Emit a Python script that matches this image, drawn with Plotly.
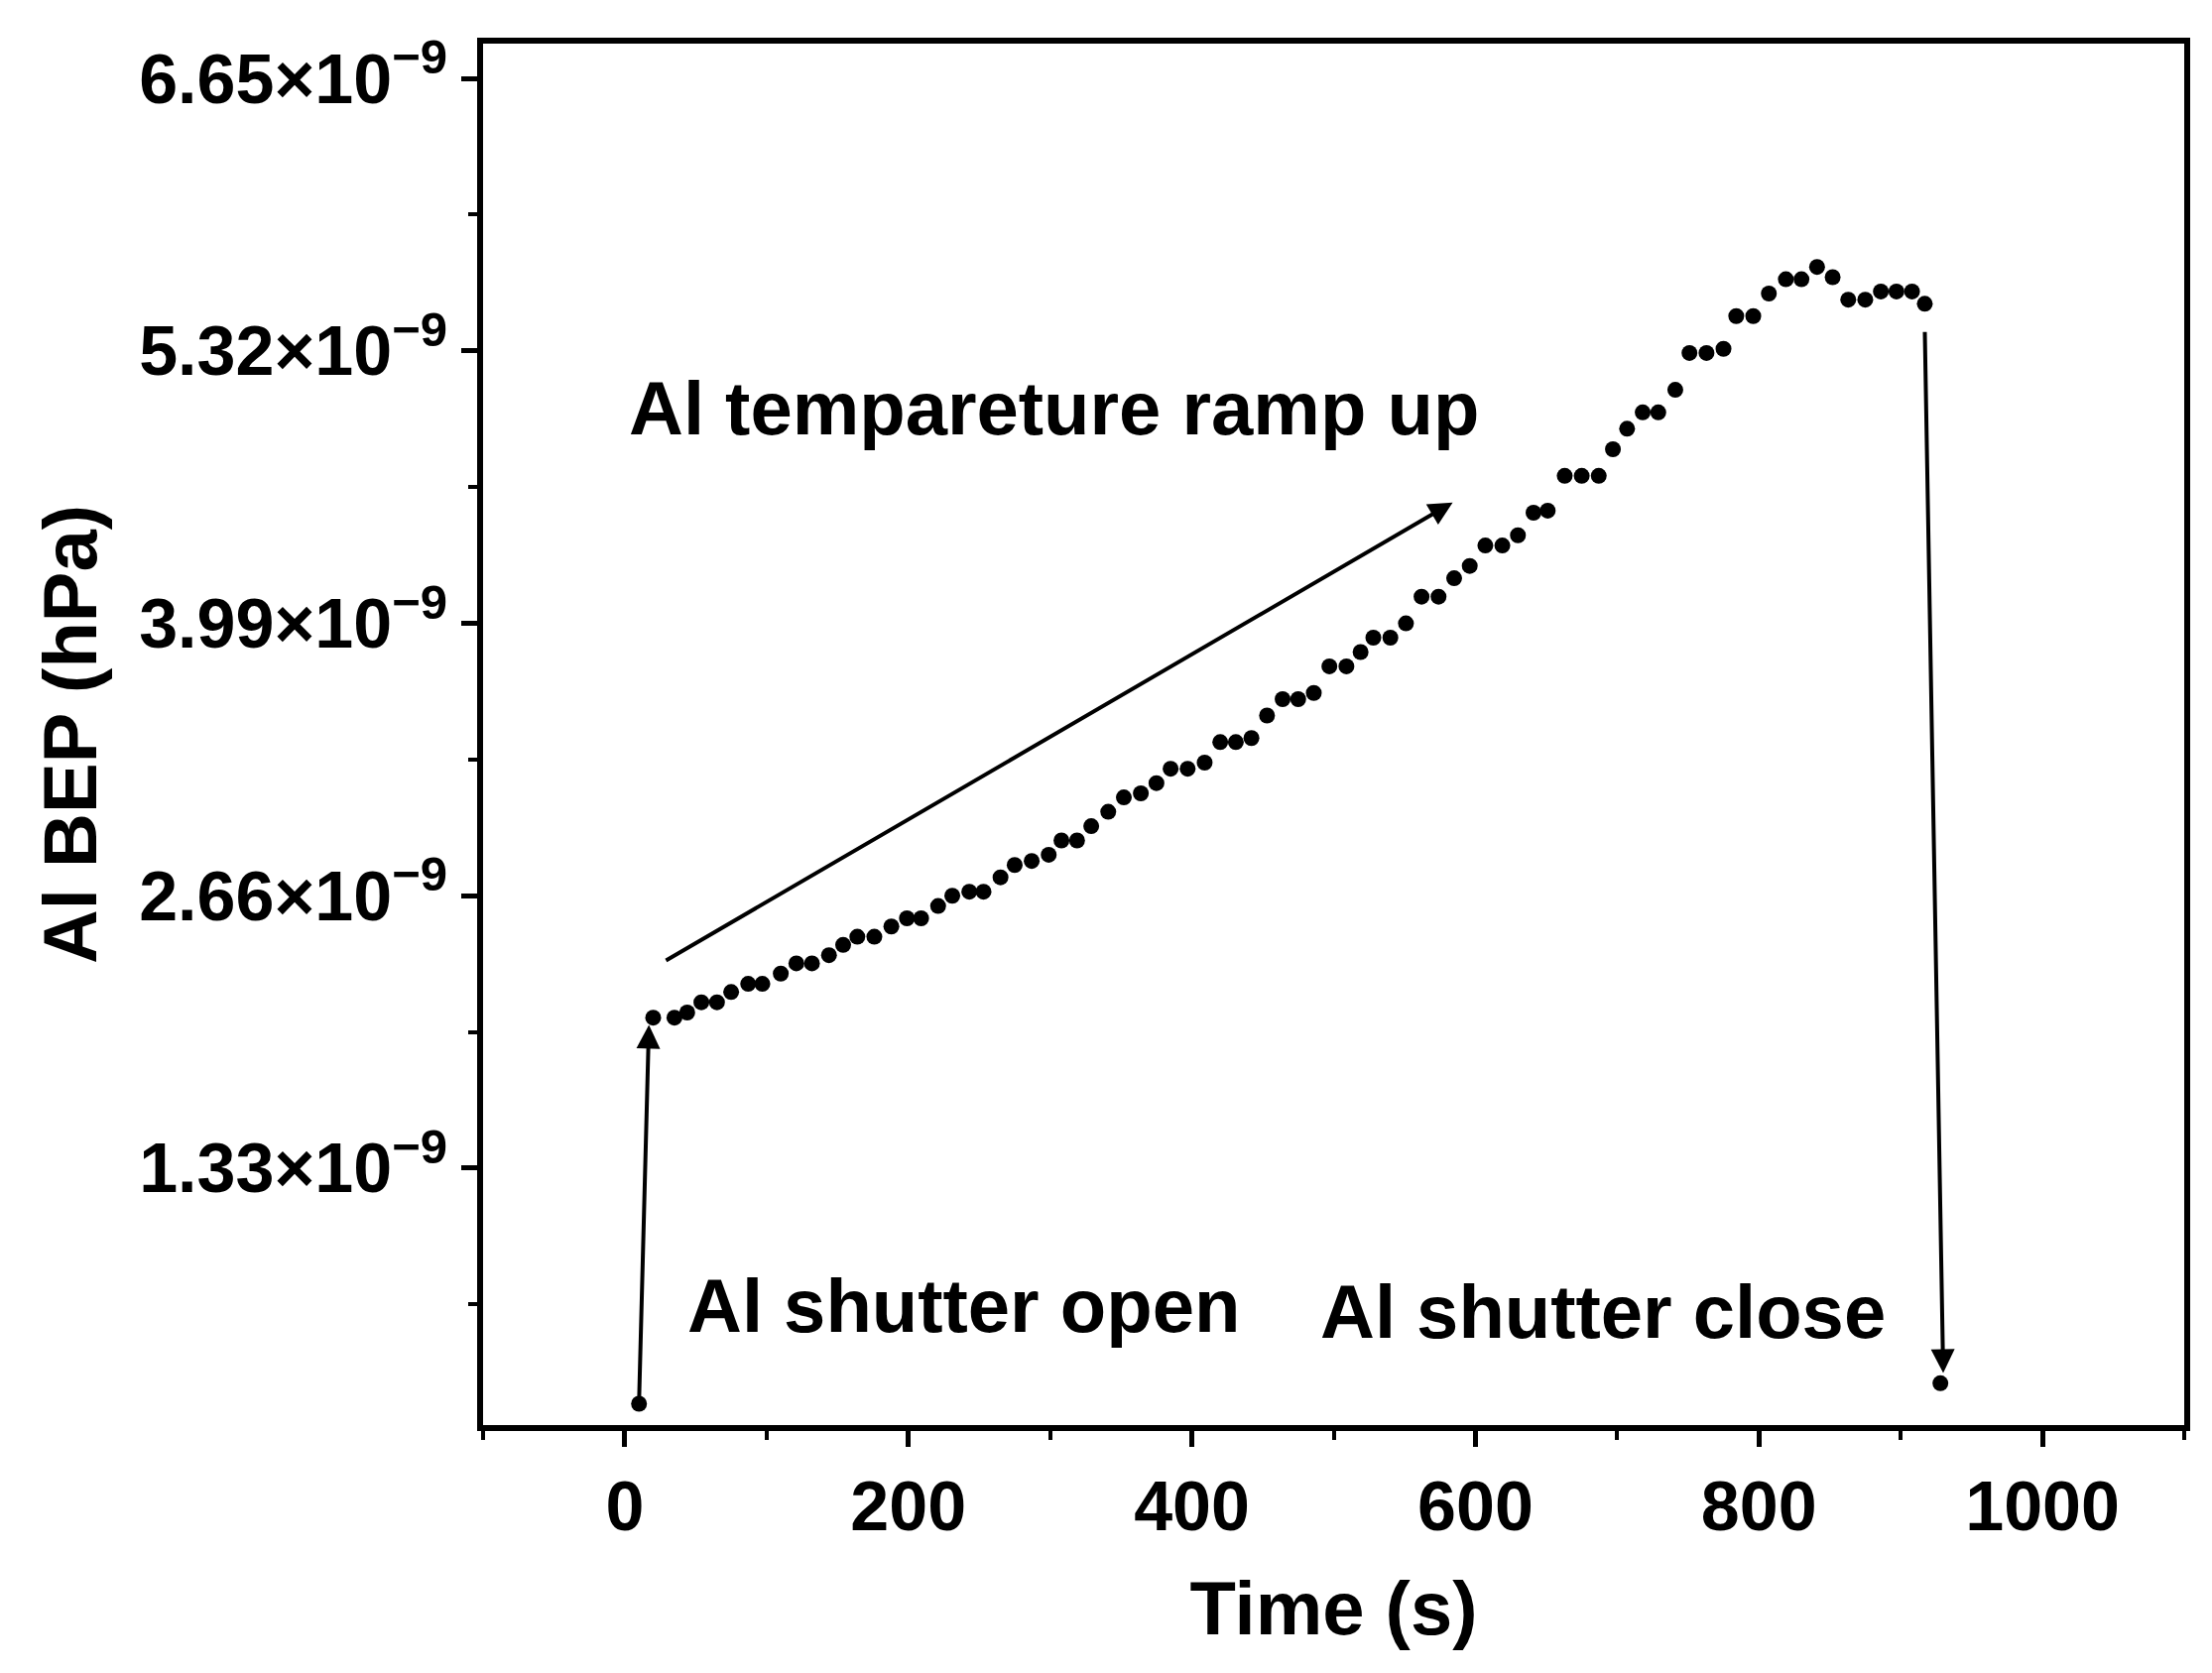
import plotly.graph_objects as go

time_s = [10,20,35,44,54,65,75,87,97,110,121,132,144,154,164,176,188,199,209,221,231,243,253,265,275,287,299,308,319,329,341,352,364,375,385,397,409,420,431,442,453,464,475,486,497,509,519,528,540,551,562,574,585,596,607,619,630,641,651,663,675,687,697,707,718,729,741,751,763,775,784,796,807,819,830,841,852,863,875,886,897,908,917,928]
bep = [0.18,2.065,2.065,2.09,2.14,2.14,2.19,2.23,2.23,2.28,2.33,2.33,2.37,2.42,2.46,2.46,2.51,2.55,2.55,2.61,2.66,2.68,2.68,2.75,2.81,2.83,2.86,2.93,2.93,3.00,3.07,3.14,3.16,3.21,3.28,3.28,3.31,3.41,3.41,3.43,3.54,3.62,3.62,3.65,3.78,3.78,3.85,3.92,3.92,3.99,4.12,4.12,4.21,4.27,4.37,4.37,4.42,4.53,4.54,4.71,4.71,4.71,4.84,4.94,5.02,5.02,5.13,5.31,5.31,5.33,5.49,5.49,5.60,5.67,5.67,5.73,5.68,5.57,5.57,5.61,5.61,5.61,5.55,0.28]
y_tickvals = [1.33,2.66,3.99,5.32,6.65]
y_ticktext = ["1.33×10<sup>−9</sup>","2.66×10<sup>−9</sup>","3.99×10<sup>−9</sup>","5.32×10<sup>−9</sup>","6.65×10<sup>−9</sup>"]

F = "Liberation Sans, Arial, sans-serif"
fig = go.Figure(go.Scatter(x=time_s, y=bep, mode="markers",
                           marker=dict(color="black", size=16)))

arrows = [((10,0.18),(17,2.03)), ((28,2.34),(584,4.58)), ((917,5.42),(930,0.33))]
for (x0,y0),(x1,y1) in arrows:
    fig.add_annotation(x=x1,y=y1,ax=x0,ay=y0,xref="x",yref="y",axref="x",ayref="y",
                       showarrow=True,arrowhead=2,arrowsize=1.2,arrowwidth=4,arrowcolor="black",text="")
for t,x,y in [("Al tempareture ramp up",303,5.04),("Al shutter open",239,0.66),("Al shutter close",690,0.63)]:
    fig.add_annotation(x=x,y=y,xref="x",yref="y",text="<b>"+t+"</b>",showarrow=False,
                       font=dict(family=F,size=76,color="black"))

axis_common = dict(showline=True, linecolor="black", linewidth=6, mirror=True, ticks="outside",
                   ticklen=16, tickwidth=5, tickcolor="black", showgrid=False, zeroline=False,
                   tickfont=dict(family=F, size=70, color="black"))
fig.update_xaxes(range=[-100,1100], tickvals=[0,200,400,600,800,1000],
                 ticktext=["<b>%d</b>"%v for v in [0,200,400,600,800,1000]],
                 minor=dict(ticks="outside", ticklen=9, tickwidth=4, tickcolor="black", dtick=100, tick0=0),
                 title=dict(text="<b>Time (s)</b>", font=dict(family=F,size=76,color="black"), standoff=40),
                 **axis_common)
fig.update_yaxes(range=[0.076,6.82], tickvals=y_tickvals,
                 ticktext=["<b>"+t+"</b>" for t in y_ticktext],
                 minor=dict(ticks="outside", ticklen=9, tickwidth=4, tickcolor="black",
                            tickvals=[0.665,1.995,3.325,4.655,5.985]),
                 title=dict(text="<b>Al BEP (hPa)</b>", font=dict(family=F,size=76,color="black"), standoff=20),
                 **axis_common)
fig.update_layout(width=2230, height=1687, plot_bgcolor="white", paper_bgcolor="white",
                  margin=dict(l=479, r=36, t=36, b=258), showlegend=False)
fig.write_html("out.html")
